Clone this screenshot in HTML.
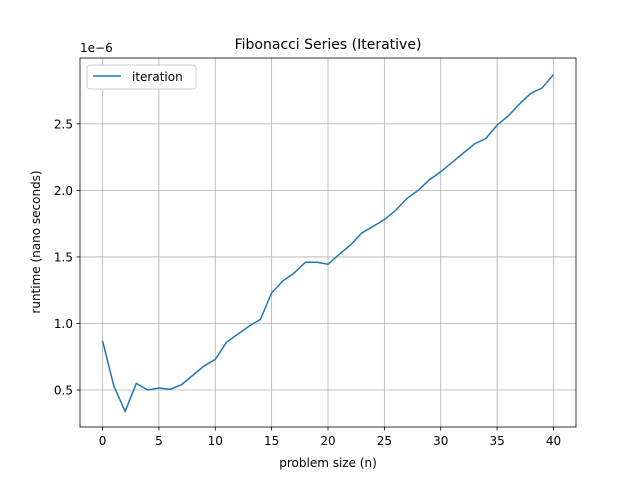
<!DOCTYPE html>
<html><head><meta charset="utf-8"><style>body{margin:0;background:#fff}svg{display:block;font-family:"DejaVu Sans","Liberation Sans",sans-serif}</style></head>
<body>
<svg id="chart" width="640" height="480" viewBox="0 0 640 480">
<rect width="640" height="480" fill="#fff"/>
<text x="328" y="49" text-anchor="middle" font-size="14">Fibonacci Series (Iterative)</text>
<g id="grid"></g>
<g id="xt"></g><g id="yt"></g>
<path id="line" fill="none" stroke="#1f77b4" stroke-width="1.5"/>
<rect x="80" y="58" width="496" height="369" fill="none" stroke="#000" stroke-width="0.8"/>
<text x="80" y="52" font-size="12">1e−6</text>
<text x="328" y="467" text-anchor="middle" font-size="12">problem size (n)</text>
<text transform="translate(40,242) rotate(-90)" text-anchor="middle" font-size="12">runtime (nano seconds)</text>
<g>
<rect x="87" y="65" width="109" height="24" rx="3" fill="#fff" stroke="#ccc" stroke-width="1"/>
<line x1="93" y1="76" x2="121" y2="76" stroke="#1f77b4" stroke-width="1.5"/>
<text x="132" y="81" font-size="12">iteration</text>
</g>
</svg>
<script>
const sizes=[0,1,2,3,4,5,6,7,8,9,10,11,12,13,14,15,16,17,18,19,20,21,22,23,24,25,26,27,28,29,30,31,32,33,34,35,36,37,38,39,40];
const runtimes=[0.87,0.53,0.34,0.55,0.50,0.515,0.505,0.54,0.61,0.68,0.73,0.86,0.92,0.98,1.03,1.23,1.32,1.38,1.46,1.46,1.445,1.52,1.59,1.68,1.73,1.78,1.85,1.94,2.0,2.08,2.14,2.21,2.28,2.35,2.39,2.49,2.56,2.65,2.73,2.77,2.87];
const xTicks=[0,5,10,15,20,25,30,35,40];
const yTicks=[0.5,1.0,1.5,2.0,2.5];
const yTickLabels=["0.5","1.0","1.5","2.0","2.5"];
const X=v=>80+(v+2)/44*496;
const Y=v=>427-(v-0.222)/(2.995-0.222)*369;
const NS="http://www.w3.org/2000/svg";
function mk(t,a,p){const e=document.createElementNS(NS,t);for(const k in a)e.setAttribute(k,a[k]);p.appendChild(e);return e;}
const g=document.getElementById('grid'),xt=document.getElementById('xt'),yt=document.getElementById('yt');
xTicks.forEach(v=>{const x=X(v);
const gl=mk('line',{x1:x,x2:x,y1:58,y2:427,stroke:'#b0b0b0','stroke-width':0.8},g);

mk('line',{x1:x,x2:x,y1:427,y2:430.5,stroke:'#000','stroke-width':0.8},xt);
const t=mk('text',{x:x,y:445,'text-anchor':'middle','font-size':12},xt);t.textContent=v;
});
yTicks.forEach((v,i)=>{const y=Y(v);
const gl=mk('line',{x1:80,x2:576,y1:y,y2:y,stroke:'#b0b0b0','stroke-width':0.8},g);

mk('line',{x1:76.5,x2:80,y1:y,y2:y,stroke:'#000','stroke-width':0.8},yt);
const t=mk('text',{x:73,y:y+4.5,'text-anchor':'end','font-size':12},yt);t.textContent=yTickLabels[i];
});
document.getElementById('line').setAttribute('d',sizes.map((s,i)=>(i?'L':'M')+X(s).toFixed(2)+','+Y(runtimes[i]).toFixed(2)).join(''));
</script>
</body></html>
